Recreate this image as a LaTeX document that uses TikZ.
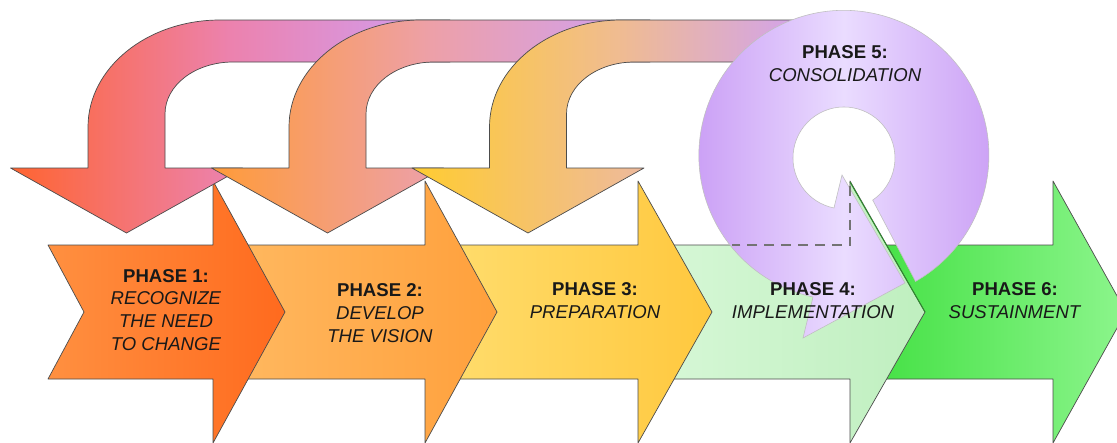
\documentclass[tikz,border=0pt]{standalone}
\usepackage{fontspec}
\setmainfont{Liberation Sans}

\definecolor{oneL}{HTML}{FF9040}
\definecolor{oneR}{HTML}{FF6A1E}
\definecolor{twoL}{HTML}{FFBA62}
\definecolor{twoR}{HTML}{FFA03C}
\definecolor{threeL}{HTML}{FFDE70}
\definecolor{threeR}{HTML}{FFC83E}
\definecolor{fourL}{HTML}{D8F8D8}
\definecolor{fourR}{HTML}{BFEFBF}
\definecolor{sixL}{HTML}{3EDF3E}
\definecolor{sixR}{HTML}{8CF58C}
\definecolor{loopAL}{HTML}{FF6430}
\definecolor{loopAM}{HTML}{EC82AE}
\definecolor{loopBL}{HTML}{FF9B38}
\definecolor{loopBM}{HTML}{EDA0A8}
\definecolor{loopCL}{HTML}{FFCC30}
\definecolor{loopCM}{HTML}{F0BC90}
\definecolor{lilac}{HTML}{CFA0F5}
\definecolor{ringL}{HTML}{C99CF5}
\definecolor{ringM}{HTML}{EADCFF}
\definecolor{ringR}{HTML}{CA9EF5}
\definecolor{edgegreen}{HTML}{2E8B2E}

\tikzset{
  outline/.style={draw=black!70, line width=0.5pt, line join=round},
  phase/.style={align=center, inner sep=0pt, text=black!90,
    font=\fontsize{13.2}{16.3}\selectfont},
}

% block arrow of the bottom row: style, tail x, head base x, tip x
\newcommand{\blockarrow}[4]{%
  \path[outline,#1] (#2,245) -- (#3,245) -- (#3,181) -- (#4,312) -- (#3,443)
    -- (#3,379) -- (#2,379) -- ({#2+36},312) -- cycle;}

% return arrow across the top: style, stem centre x, band end x
\newcommand{\looparrow}[3]{%
  \path[outline,#1] ({#2+93.5},20) -- (#3,20) -- (#3,62) -- ({#2+106.5},62)
    .. controls ({#2+69},62) and ({#2+38.5},85) .. ({#2+38.5},114)
    -- ({#2+38.5},168) -- ({#2+116},168) -- (#2,233) -- ({#2-116},168)
    -- ({#2-38.5},168) -- ({#2-38.5},127)
    .. controls ({#2-38.5},68) and ({#2+20.5},20) .. ({#2+93.5},20) -- cycle;}

\begin{document}
\begin{tikzpicture}[x=0.025cm,y=-0.025cm]
\useasboundingbox (0,0) rectangle (1117,442);
\fill[white] (0,0) rectangle (1117,442);

% bottom row, last one first
\blockarrow{left color=sixL,right color=sixR}{850}{1053}{1126}
\blockarrow{left color=fourL,right color=fourR}{638}{850}{925}
\blockarrow{left color=threeL,right color=threeR}{425}{638}{712}
\blockarrow{left color=twoL,right color=twoR}{213}{425}{497}
\blockarrow{left color=oneL,right color=oneR}{48}{213}{285}

% arrows coming back over the top (middle color goes last)
\looparrow{left color=loopAL,right color=lilac,middle color=loopAM}{126.5}{450}
\looparrow{left color=loopBL,right color=lilac,middle color=loopBM}{327.5}{650}
\looparrow{left color=loopCL,right color=lilac,middle color=loopCM}{528}{820}

% phase 5 ring
\path[draw=black!25, line width=0.4pt, left color=ringL, right color=ringR, middle color=ringM]
  (813,297) arc[start angle=102.3, end angle=420.4, radius=145]
  -- (872.7,200.1) arc[start angle=55.7, end angle=-258.7, radius=51]
  -- (842,175) -- (905,283) -- (803,338) -- cycle;

% hidden edge of phase 4
\draw[black!55, line width=1pt, dash pattern=on 7pt off 5pt] (850,186) -- (850,245) -- (732,245);
\draw[edgegreen, line width=0.7pt] (850,182) -- (925,312);

\node[phase] (p1) at (166,310) {\textbf{PHASE 1:}\\\textit{RECOGNIZE}\\\textit{THE NEED}\\\textit{TO CHANGE}};
\node[phase] (p2) at (380,313) {\textbf{PHASE 2:}\\\textit{DEVELOP}\\\textit{THE VISION}};
\node[phase] (p3) at (595,301) {\textbf{PHASE 3:}\\\textit{PREPARATION}};
\node[phase] (p4) at (813,301) {\textbf{PHASE 4:}\\\textit{IMPLEMENTATION}};
\node[phase] (p5) at (845,64) {\textbf{PHASE 5:}\\\textit{CONSOLIDATION}};
\node[phase] (p6) at (1015,301) {\textbf{PHASE 6:}\\\textit{SUSTAINMENT}};
\end{tikzpicture}
\end{document}
